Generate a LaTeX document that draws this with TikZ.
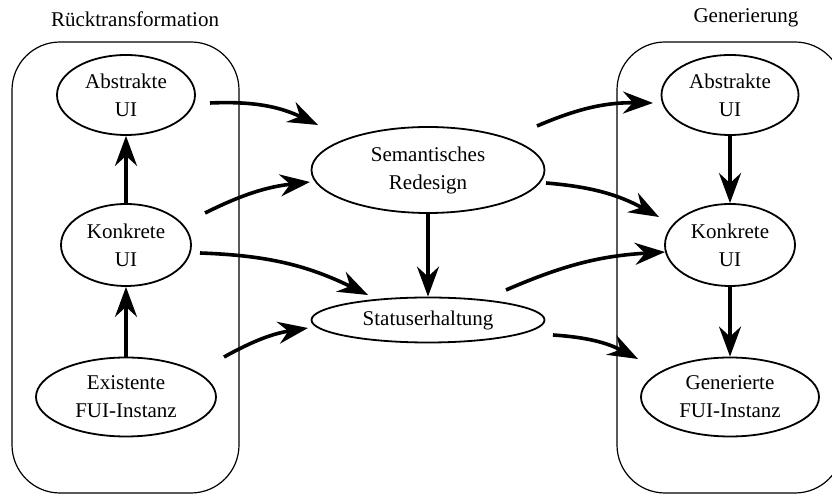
\documentclass[tikz,border=0pt]{standalone}
\usepackage{fontspec}
\setmainfont{Liberation Serif}
\usetikzlibrary{arrows.meta,shapes.geometric}
\begin{document}
\begin{tikzpicture}[x=1pt,y=1pt,
  state/.style={draw, ellipse, line width=1.8pt, inner sep=0pt, align=center,
    font=\fontsize{21}{28}\selectfont},
  group/.style={draw, line width=1.2pt, rounded corners=48pt},
  grouplabel/.style={font=\fontsize{21}{26}\selectfont},
  flow/.style={line width=3.6pt, -{Stealth[length=30pt,width=22pt,inset=10pt]}},
]
\useasboundingbox (0,0) rectangle (832,494);
\clip (0,0) rectangle (832,494);

% the two phase containers
\draw[group] (12,1) rectangle (239,452);
\draw[group] (617,1) rectangle (843,452);
\node[grouplabel] (lbl1) at (135,475) {Rücktransformation};
\node[grouplabel] (lbl2) at (746,476) {Generierung};

% reverse engineering side
\node[state, minimum width=138pt, minimum height=80pt] (la) at (126,399) {Abstrakte\\UI};
\node[state, minimum width=130pt, minimum height=82pt] (lk) at (126,249) {Konkrete\\UI};
\node[state, minimum width=180pt, minimum height=79pt] (le) at (126,97) {Existente\\FUI-Instanz};

% middle
\node[state, minimum width=233pt, minimum height=86pt] (sr) at (428,324) {Semantisches\\Redesign};
\node[state, minimum width=233pt, minimum height=45pt] (st) at (428,174) {Statuserhaltung};

% generation side
\node[state, minimum width=137pt, minimum height=80pt] (ra) at (730,399) {Abstrakte\\UI};
\node[state, minimum width=130pt, minimum height=82pt] (rk) at (730,249) {Konkrete\\UI};
\node[state, minimum width=178pt, minimum height=79pt] (rg) at (730,97) {Generierte\\FUI-Instanz};

% vertical arrows
\draw[flow] (lk.north) -- (la.south);
\draw[flow] (le.north) -- (lk.south);
\draw[flow] (ra.south) -- (rk.north);
\draw[flow] (rk.south) -- (rg.north);
\draw[flow] (sr.south) -- (st.north);

% curved arrows into the middle
\draw[flow] ([shift={(84,-8)}]la.center) to[bend left=14] ([shift={(-110,45)}]sr.center);
\draw[flow] ([shift={(79,32)}]lk.center) to[bend left=10] ([shift={(-118,-12)}]sr.center);
\draw[flow] ([shift={(74,-8)}]lk.center) to[bend left=12] ([shift={(-60,25)}]st.center);
\draw[flow] ([shift={(98,40)}]le.center) to[bend left=10] ([shift={(-120,-8)}]st.center);

% curved arrows out of the middle
\draw[flow] ([shift={(109,44)}]sr.center) to[bend left=12] ([shift={(-77,-8)}]ra.center);
\draw[flow] ([shift={(118,-13)}]sr.center) to[bend left=12] ([shift={(-71,28)}]rk.center);
\draw[flow] ([shift={(78,30)}]st.center) to[bend left=10] ([shift={(-65,-7)}]rk.center);
\draw[flow] ([shift={(125,-15)}]st.center) to[bend left=12] ([shift={(-92,38)}]rg.center);
\end{tikzpicture}
\end{document}
